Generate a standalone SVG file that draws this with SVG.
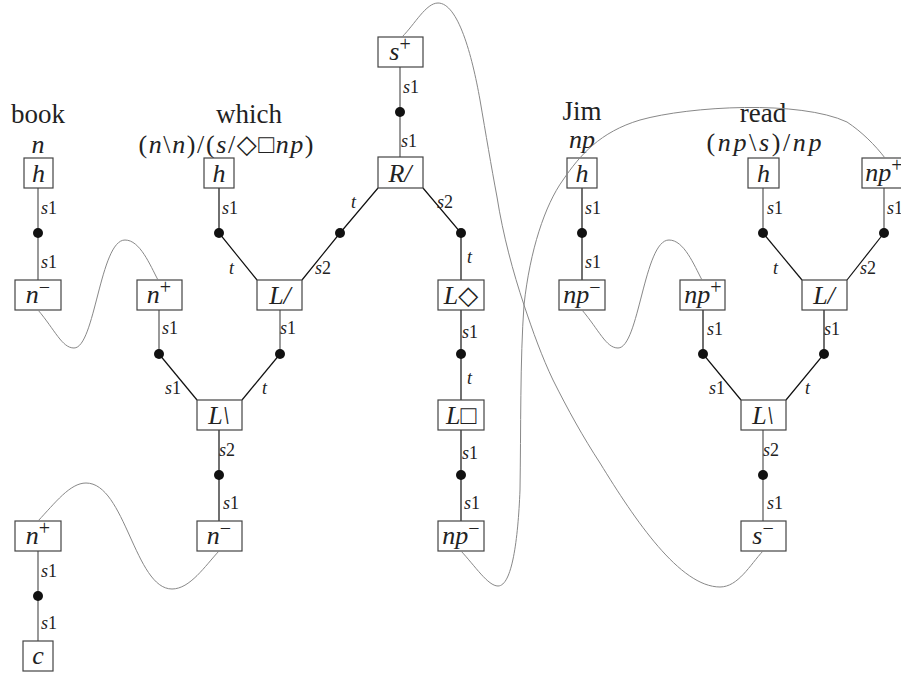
<svg xmlns="http://www.w3.org/2000/svg" width="901" height="677" viewBox="0 0 901 677">
<style>
.box{fill:#fff;stroke:#444;stroke-width:1.2}
.bt{font-family:"Liberation Serif","DejaVu Serif","Times New Roman",serif;font-style:italic;font-size:26px;text-anchor:middle;fill:#222}
.up{font-style:normal}
.sup{font-style:normal;font-size:20px}
.gl{stroke:#888;stroke-width:1.7;fill:none}
.bl{stroke:#111;stroke-width:1.2;fill:none}
.cv{stroke:#888;stroke-width:1;fill:none}
.dot{fill:#111}
.lb{font-family:"Liberation Serif","DejaVu Serif","Times New Roman",serif;font-style:italic;font-size:18px;fill:#222}
.wd{font-family:"Liberation Serif","DejaVu Serif","Times New Roman",serif;font-size:27px;text-anchor:middle;fill:#222}
.ty{font-family:"Liberation Serif","DejaVu Serif","Times New Roman",serif;font-style:italic;font-size:26px;text-anchor:middle;fill:#222}
</style>
<rect width="901" height="677" fill="#fff"/>
<g id="connectors">
<path class="gl" d="M38,188V280"/>
<path class="gl" d="M38,551V641"/>
<path class="bl" d="M219,188V233L257,280"/>
<path class="bl" d="M378,188L340,233L302,280"/>
<path class="gl" d="M159,310V354"/>
<path class="gl" d="M280,310V354"/>
<path class="bl" d="M159,354L197,400"/>
<path class="bl" d="M280,354L242,400"/>
<path class="bl" d="M219,430V521"/>
<path class="gl" d="M400,67V157"/>
<path class="bl" d="M423,188L461,233V280"/>
<path class="bl" d="M461,310V400"/>
<path class="bl" d="M461,430V521"/>
<path class="bl" d="M582,188V280"/>
<path class="gl" d="M763,188V233"/>
<path class="bl" d="M763,233L802,280"/>
<path class="gl" d="M884,188V233"/>
<path class="bl" d="M884,233L847,280"/>
<path class="bl" d="M703,310V354L741,400"/>
<path class="bl" d="M824,310V354L786,400"/>
<path class="gl" d="M763,430V521"/>
<g class="dot">
<circle cx="38" cy="233" r="5"/><circle cx="38" cy="596" r="5"/>
<circle cx="219" cy="233" r="5"/><circle cx="340" cy="233" r="5"/><circle cx="461" cy="233" r="5"/>
<circle cx="400" cy="112" r="5"/>
<circle cx="159" cy="354" r="5"/><circle cx="280" cy="354" r="5"/><circle cx="219" cy="475" r="5"/>
<circle cx="461" cy="354" r="5"/><circle cx="461" cy="475" r="5"/>
<circle cx="582" cy="233" r="5"/><circle cx="763" cy="233" r="5"/><circle cx="884" cy="233" r="5"/>
<circle cx="703" cy="354" r="5"/><circle cx="824" cy="354" r="5"/><circle cx="763" cy="475" r="5"/>
</g>
<g class="lb">
<text x="41" y="214">s<tspan class="up">1</tspan></text>
<text x="41" y="268">s<tspan class="up">1</tspan></text>
<text x="41" y="577">s<tspan class="up">1</tspan></text>
<text x="41" y="629">s<tspan class="up">1</tspan></text>
<text x="222" y="214">s<tspan class="up">1</tspan></text>
<text x="229" y="274">t</text>
<text x="315" y="274">s<tspan class="up">2</tspan></text>
<text x="351" y="208">t</text>
<text x="437" y="208">s<tspan class="up">2</tspan></text>
<text x="403" y="93">s<tspan class="up">1</tspan></text>
<text x="401" y="147">s<tspan class="up">1</tspan></text>
<text x="467" y="263">t</text>
<text x="462" y="338">s<tspan class="up">1</tspan></text>
<text x="467" y="384">t</text>
<text x="462" y="459">s<tspan class="up">1</tspan></text>
<text x="464" y="509">s<tspan class="up">1</tspan></text>
<text x="162" y="334">s<tspan class="up">1</tspan></text>
<text x="280" y="334">s<tspan class="up">1</tspan></text>
<text x="165" y="394">s<tspan class="up">1</tspan></text>
<text x="262" y="394">t</text>
<text x="219" y="456">s<tspan class="up">2</tspan></text>
<text x="223" y="509">s<tspan class="up">1</tspan></text>
<text x="585" y="214">s<tspan class="up">1</tspan></text>
<text x="585" y="268">s<tspan class="up">1</tspan></text>
<text x="767" y="214">s<tspan class="up">1</tspan></text>
<text x="887" y="214">s<tspan class="up">1</tspan></text>
<text x="773" y="274">t</text>
<text x="860" y="274">s<tspan class="up">2</tspan></text>
<text x="707" y="335">s<tspan class="up">1</tspan></text>
<text x="824" y="335">s<tspan class="up">1</tspan></text>
<text x="709" y="394">s<tspan class="up">1</tspan></text>
<text x="805" y="394">t</text>
<text x="763" y="456">s<tspan class="up">2</tspan></text>
<text x="767" y="509">s<tspan class="up">1</tspan></text>
</g>
</g>
<g id="words">
<text class="wd" x="38" y="123">book</text>
<text class="ty" x="38" y="153">n</text>
<text class="wd" x="249" y="123">which</text>
<text class="ty" x="226" y="153" textLength="175" lengthAdjust="spacing"><tspan class="up">(</tspan>n<tspan class="up">\</tspan>n<tspan class="up">)/(</tspan>s<tspan class="up">/◇□</tspan>np<tspan class="up">)</tspan></text>
<text class="wd" x="582" y="120">Jim</text>
<text class="ty" x="582" y="148">np</text>
<text class="wd" x="763" y="122">read</text>
<text class="ty" x="764" y="151" textLength="115" lengthAdjust="spacing"><tspan class="up">(</tspan>np<tspan class="up">\</tspan>s<tspan class="up">)/</tspan>np</text>
</g>
<g id="n-book-h"><rect class="box" x="24" y="158" width="29" height="30"/><text class="bt" x="38.5" y="182">h</text></g>
<g id="n-book-nminus"><rect class="box" x="15" y="280" width="46" height="30"/><text class="bt" x="38" y="303">n<tspan class="sup" dy="-9">−</tspan></text></g>
<g id="n-nplus-mid"><rect class="box" x="137" y="280" width="45" height="30"/><text class="bt" x="159" y="303">n<tspan class="sup" dy="-9">+</tspan></text></g>
<g id="n-which-h"><rect class="box" x="204" y="158" width="30" height="30"/><text class="bt" x="219" y="182">h</text></g>
<g id="n-which-Lslash"><rect class="box" x="257" y="280" width="45" height="30"/><text class="bt" x="280" y="304">L/</text></g>
<g id="n-which-Lback"><rect class="box" x="197" y="400" width="45" height="30"/><text class="bt" x="219" y="424">L\</text></g>
<g id="n-nminus-bot"><rect class="box" x="197" y="521" width="45" height="30"/><text class="bt" x="219" y="544">n<tspan class="sup" dy="-9">−</tspan></text></g>
<g id="n-nplus-bot"><rect class="box" x="15" y="521" width="46" height="30"/><text class="bt" x="38" y="544">n<tspan class="sup" dy="-9">+</tspan></text></g>
<g id="n-c"><rect class="box" x="23" y="641" width="30" height="30"/><text class="bt" x="38" y="664">c</text></g>
<g id="n-splus"><rect class="box" x="378" y="37" width="45" height="30"/><text class="bt" x="400" y="60">s<tspan class="sup" dy="-9">+</tspan></text></g>
<g id="n-Rslash"><rect class="box" x="378" y="157" width="45" height="31"/><text class="bt" x="400" y="182">R/</text></g>
<g id="n-Ldiamond"><rect class="box" x="438" y="280" width="46" height="30"/><text class="bt" x="461" y="304">L<tspan class="up">◇</tspan></text></g>
<g id="n-Lbox"><rect class="box" x="438" y="400" width="46" height="30"/><text class="bt" x="461" y="424">L<tspan class="up">□</tspan></text></g>
<g id="n-npminus-which"><rect class="box" x="438" y="521" width="46" height="30"/><text class="bt" x="461" y="544">np<tspan class="sup" dy="-9">−</tspan></text></g>
<g id="n-jim-h"><rect class="box" x="567" y="158" width="30" height="30"/><text class="bt" x="582" y="182">h</text></g>
<g id="n-jim-npminus"><rect class="box" x="559" y="280" width="46" height="30"/><text class="bt" x="582" y="303">np<tspan class="sup" dy="-9">−</tspan></text></g>
<g id="n-read-npplus-mid"><rect class="box" x="680" y="280" width="45" height="30"/><text class="bt" x="703" y="303">np<tspan class="sup" dy="-9">+</tspan></text></g>
<g id="n-read-h"><rect class="box" x="748" y="158" width="31" height="30"/><text class="bt" x="763.5" y="182">h</text></g>
<g id="n-read-npplus-top"><rect class="box" x="862" y="158" width="45" height="30"/><text class="bt" x="884" y="181">np<tspan class="sup" dy="-9">+</tspan></text></g>
<g id="n-read-Lslash"><rect class="box" x="802" y="280" width="45" height="30"/><text class="bt" x="824" y="304">L/</text></g>
<g id="n-read-Lback"><rect class="box" x="741" y="400" width="45" height="30"/><text class="bt" x="763" y="424">L\</text></g>
<g id="n-sminus"><rect class="box" x="741" y="521" width="45" height="30"/><text class="bt" x="763" y="544">s<tspan class="sup" dy="-9">−</tspan></text></g>
<g id="axiom-links">
<path class="cv" d="M38,310C55,330 62,348 74,348C95,348 100,240 125,240C140,240 150,265 158,280"/>
<path class="cv" d="M582,310C599,330 606,348 618,348C639,348 644,240 669,240C684,240 694,265 702,280"/>
<path class="cv" d="M38,521C55,503 70,483 86,483C125,483 135,589 172,589C190,589 205,566 219,551"/>
<path class="cv" d="M402,37C415,24 426,3 438,3C458,3 472,55 480,100C486,135 491,165 497,197C503,235 513,272 524,305C533,332 542,357 553,380C568,410 583,437 600,463C635,520 680,587 720,587C738,587 750,565 763,551"/>
<path class="cv" d="M461,551C475,566 488,586 498,586C512,586 518,540 520,490C521,430 520,360 524,305C530,250 545,205 563,180C580,155 600,132 640,120C690,106 800,100 847,122C862,132 875,145 885,158"/>
</g>
</svg>
